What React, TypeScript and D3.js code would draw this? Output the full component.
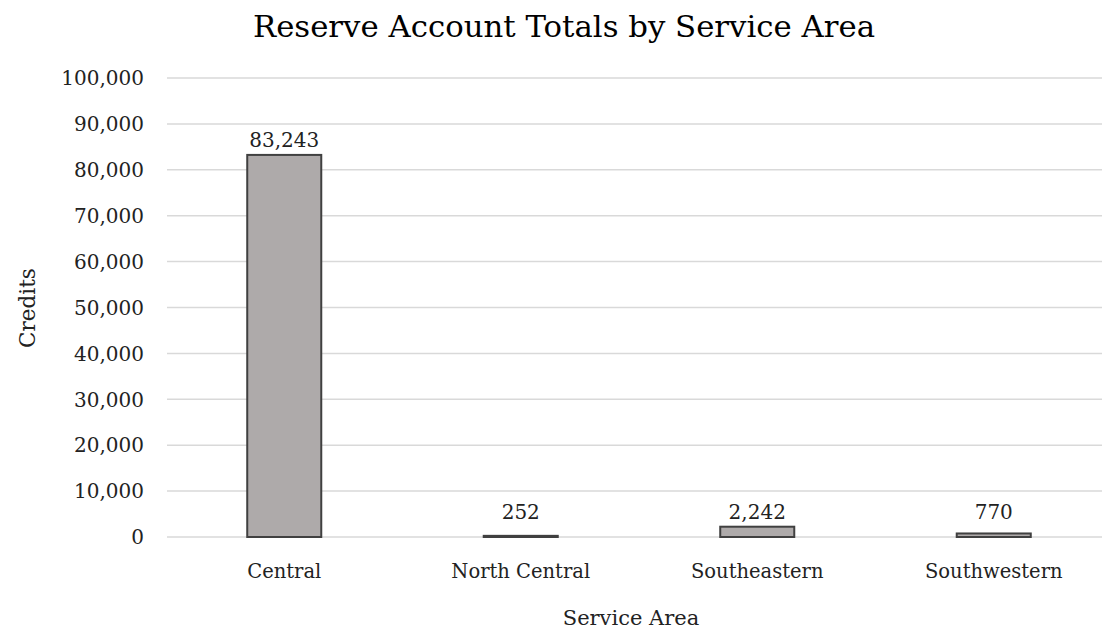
import React from "react";
import * as d3 from "d3";

const categories = ["Central", "North Central", "Southeastern", "Southwestern"];
const credits = [83243, 252, 2242, 770];
const yTicks = [0, 10000, 20000, 30000, 40000, 50000, 60000, 70000, 80000, 90000, 100000];

const W = 1102;
const H = 631;
const FONT = "'DejaVu Serif', 'Liberation Serif', serif";

export default function App() {
  const left = 166, right = 1112, top = 78, bottom = 537;
  const x = d3.scaleBand<string>().domain(categories).range([left, right]).paddingInner(0.687).paddingOuter(0.3435);
  const y = d3.scaleLinear().domain([0, 100000]).range([bottom, top]);
  const fmt = d3.format(",");
  return (
    <svg width={W} height={H} style={{ position: "absolute", left: 0, top: 0, background: "#fff" }} fontFamily={FONT}>
      <rect x={0} y={0} width={W} height={H} fill="#fff" />
      <text x={564} y={37} textAnchor="middle" fontSize={30} fill="#000" textLength={622} lengthAdjust="spacingAndGlyphs">
        Reserve Account Totals by Service Area
      </text>
      {yTicks.map((t) => (
        <g key={t}>
          <line x1={167} x2={W} y1={y(t)} y2={y(t)} stroke="#d9d9d9" strokeWidth={1.5} />
          <text x={144} y={y(t)} dy="0.36em" textAnchor="end" fontSize={20} fill="#222">
            {fmt(t)}
          </text>
        </g>
      ))}
      {categories.map((c, i) => {
        const v = credits[i];
        const bx = x(c)!;
        const bw = x.bandwidth();
        return (
          <g key={c}>
            <rect x={bx} y={y(v)} width={bw} height={y(0) - y(v)} fill="#aeaaaa" stroke="#404040" strokeWidth={2} />
            <text x={bx + bw / 2} y={Math.min(y(v) - 8, 519)} textAnchor="middle" fontSize={20} fill="#222">
              {fmt(v)}
            </text>
            <text x={bx + bw / 2} y={578} textAnchor="middle" fontSize={19.5} fill="#222">
              {c}
            </text>
          </g>
        );
      })}
      <text x={631} y={625} textAnchor="middle" fontSize={21} fill="#222">
        Service Area
      </text>
      <text transform="translate(35,308) rotate(-90)" textAnchor="middle" fontSize={21.5} fill="#222">
        Credits
      </text>
    </svg>
  );
}
